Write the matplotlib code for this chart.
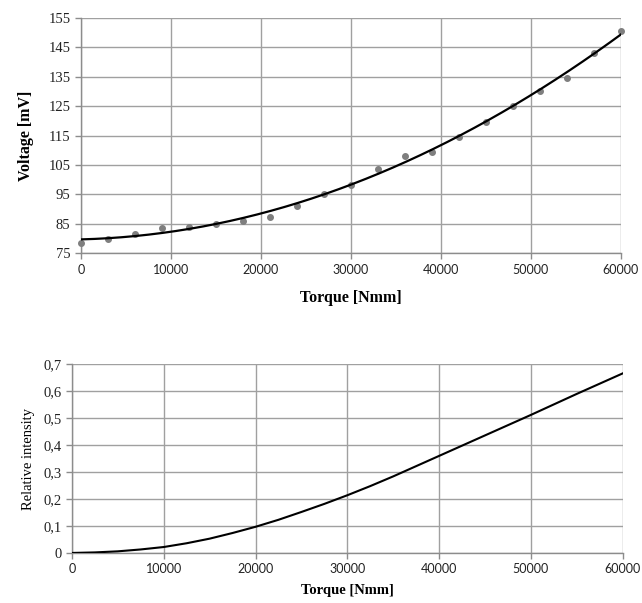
import numpy as np
import matplotlib
matplotlib.use("Agg")
import matplotlib.pyplot as plt

# measured points, top chart
torque = np.arange(0, 60001, 3000)
voltage = [78.5, 80.0, 81.7, 83.7, 84.0, 84.8, 86.0, 87.5, 91.2, 95.2, 98.2,
           103.5, 108.0, 109.5, 114.7, 119.8, 125.0, 130.3, 134.5, 143.2, 150.7]

# relative intensity curve, bottom chart
torque_ri = np.arange(0, 60001, 2500)
intensity = [0.0, 0.002, 0.006, 0.013, 0.022, 0.036, 0.053, 0.074, 0.097,
             0.123, 0.152, 0.182, 0.214, 0.248, 0.284, 0.322, 0.360, 0.398,
             0.436, 0.474, 0.512, 0.551, 0.590, 0.628, 0.666]

xticks = [0, 10000, 20000, 30000, 40000, 50000, 60000]
vticks = [75, 85, 95, 105, 115, 125, 135, 145, 155]
iticks = [0, 0.1, 0.2, 0.3, 0.4, 0.5, 0.6, 0.7]
ilabels = ["0", "0,1", "0,2", "0,3", "0,4", "0,5", "0,6", "0,7"]

serif = "Liberation Serif"
tickfont = "Lato"


def style(ax):
    for s in ["top", "right"]:
        ax.spines[s].set_visible(False)
    for s in ["left", "bottom"]:
        ax.spines[s].set_color("#8c8c8c")
        ax.spines[s].set_linewidth(1.0)
    ax.grid(True, color="#a0a0a0", linewidth=1.0)
    ax.set_axisbelow(True)
    ax.tick_params(direction="out", length=4, width=1.0, color="#8c8c8c",
                   labelcolor="#222222")
    for lab in ax.get_yticklabels():
        lab.set_fontfamily(serif)
        lab.set_fontsize(10.5)
    for lab in ax.get_xticklabels():
        lab.set_fontfamily(tickfont)
        lab.set_fontsize(9)


fig = plt.figure(figsize=(6.42, 6.03), dpi=100)

ax1 = fig.add_axes([0.126, 0.580, 0.841, 0.390])
ax1.scatter(torque, voltage, s=16, color="#7f7f7f", zorder=3, clip_on=False)
coef = np.polyfit(torque, voltage, 2)
xx = np.linspace(0, 60000, 200)
ax1.plot(xx, np.polyval(coef, xx), color="black", linewidth=1.6, zorder=4)
ax1.set_xlim(0, 60000)
ax1.set_ylim(75, 155)
ax1.set_xticks(xticks)
ax1.set_yticks(vticks)
style(ax1)
ax1.set_xlabel("Torque [Nmm]", fontfamily=serif, fontsize=11.5,
               fontweight="bold", labelpad=10)
ax1.set_ylabel("Voltage [mV]", fontfamily=serif, fontsize=11.5,
               fontweight="bold", labelpad=10)

ax2 = fig.add_axes([0.112, 0.083, 0.858, 0.313])
ax2.plot(torque_ri, intensity, color="black", linewidth=1.5, zorder=4)
ax2.set_xlim(0, 60000)
ax2.set_ylim(0, 0.7)
ax2.set_xticks(xticks)
ax2.set_yticks(iticks)
ax2.set_yticklabels(ilabels)
style(ax2)
ax2.set_xlabel("Torque [Nmm]", fontfamily=serif, fontsize=10.5,
               fontweight="bold", labelpad=6)
ax2.set_ylabel("Relative intensity", fontfamily=serif, fontsize=10.5,
               labelpad=6)

fig.savefig("out.png", dpi=100)
